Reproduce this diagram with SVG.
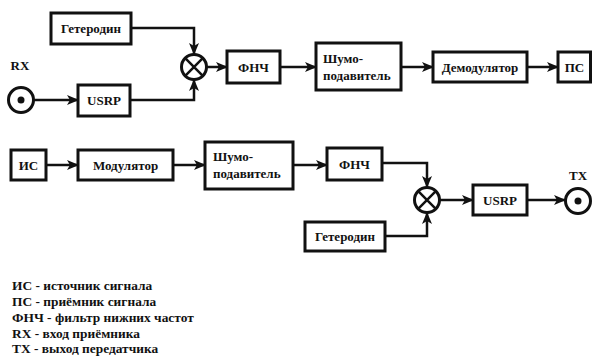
<svg xmlns="http://www.w3.org/2000/svg" width="592" height="357" viewBox="0 0 592 357">
<defs>
<style>
text{font-family:'Liberation Serif','DejaVu Serif','Times New Roman',serif;font-weight:700;font-size:13px;fill:#111}
.lg{font-size:13.4px}
.box{fill:#fff;stroke:#111;stroke-width:3}
.c{text-anchor:middle}
.ln{fill:none;stroke:#111;stroke-width:2.5}
.mix{fill:#fff;stroke:#111;stroke-width:3}
.x{stroke:#111;stroke-width:2.5}
</style>
<marker id="ah" markerUnits="userSpaceOnUse" markerWidth="12" markerHeight="10" refX="11" refY="5" orient="auto">
<path d="M0,0 L12,5 L0,10 L3,5 z" fill="#111"/>
</marker>
</defs>
<rect width="592" height="357" fill="#fff"/>
<g id="connectors">
<path class="ln" d="M131,28 H194 V54" marker-end="url(#ah)"/>
<path class="ln" d="M34,100 H78" marker-end="url(#ah)"/>
<path class="ln" d="M130,100 H194 V80" marker-end="url(#ah)"/>
<path class="ln" d="M207,67 H227" marker-end="url(#ah)"/>
<path class="ln" d="M280,67 H316" marker-end="url(#ah)"/>
<path class="ln" d="M401,67 H433" marker-end="url(#ah)"/>
<path class="ln" d="M527,67 H558" marker-end="url(#ah)"/>
<path class="ln" d="M46,165 H78" marker-end="url(#ah)"/>
<path class="ln" d="M173,165 H205" marker-end="url(#ah)"/>
<path class="ln" d="M293,165 H327" marker-end="url(#ah)"/>
<path class="ln" d="M382,163 H427 V187" marker-end="url(#ah)"/>
<path class="ln" d="M385,236 H427 V213" marker-end="url(#ah)"/>
<path class="ln" d="M440,200 H473" marker-end="url(#ah)"/>
<path class="ln" d="M527,200 H565" marker-end="url(#ah)"/>
</g>
<g id="rx">
<text class="c" x="20" y="70">RX</text>
<circle cx="21" cy="100" r="12.5" class="mix"/>
<circle cx="21" cy="100" r="3.5" fill="#111"/>
</g>
<g id="het1"><rect class="box" x="51" y="13" width="80" height="31"/><text class="c" x="91" y="33">Гетеродин</text></g>
<g id="usrp1"><rect class="box" x="78" y="85" width="52" height="31"/><text class="c" x="104" y="105">USRP</text></g>
<g id="mix1"><circle cx="194" cy="67" r="12.5" class="mix"/><path class="x" d="M185.2,58.2 L202.8,75.8 M202.8,58.2 L185.2,75.8"/></g>
<g id="lpf1"><rect class="box" x="227" y="51" width="53" height="32"/><text class="c" x="253.5" y="71.5">ФНЧ</text></g>
<g id="ns1"><rect class="box" x="316" y="43" width="85" height="47"/><text x="323" y="63">Шумо-</text><text x="323" y="80">подавитель</text></g>
<g id="demod"><rect class="box" x="433" y="52" width="94" height="30"/><text class="c" x="480" y="71.5">Демодулятор</text></g>
<g id="ps"><rect class="box" x="558" y="52" width="32.5" height="30"/><text class="c" x="574.5" y="71.5">ПС</text></g>
<g id="is"><rect class="box" x="11" y="150" width="35" height="30"/><text class="c" x="28.5" y="169.5">ИС</text></g>
<g id="mod"><rect class="box" x="78" y="150" width="95" height="30"/><text class="c" x="125.5" y="169.5">Модулятор</text></g>
<g id="ns2"><rect class="box" x="205" y="142" width="88" height="47"/><text x="213" y="161">Шумо-</text><text x="213" y="178">подавитель</text></g>
<g id="lpf2"><rect class="box" x="327" y="148" width="55" height="32"/><text class="c" x="354.5" y="168.5">ФНЧ</text></g>
<g id="het2"><rect class="box" x="305" y="222" width="80" height="29"/><text class="c" x="345" y="241">Гетеродин</text></g>
<g id="mix2"><circle cx="427" cy="200" r="12.5" class="mix"/><path class="x" d="M418.2,191.2 L435.8,208.8 M435.8,191.2 L418.2,208.8"/></g>
<g id="usrp2"><rect class="box" x="473" y="185" width="54" height="30"/><text class="c" x="500" y="204.5">USRP</text></g>
<g id="tx">
<text class="c" x="578" y="180">TX</text>
<circle cx="578" cy="201" r="12.5" class="mix"/>
<circle cx="578" cy="201" r="3.5" fill="#111"/>
</g>
<g id="legend" class="lg">
<text class="lg" x="12" y="290">ИС - источник сигнала</text>
<text class="lg" x="12" y="306">ПС - приёмник сигнала</text>
<text class="lg" x="12" y="322">ФНЧ - фильтр нижних частот</text>
<text class="lg" x="12" y="338">RX - вход приёмника</text>
<text class="lg" x="12" y="353">TX - выход передатчика</text>
</g>
</svg>
